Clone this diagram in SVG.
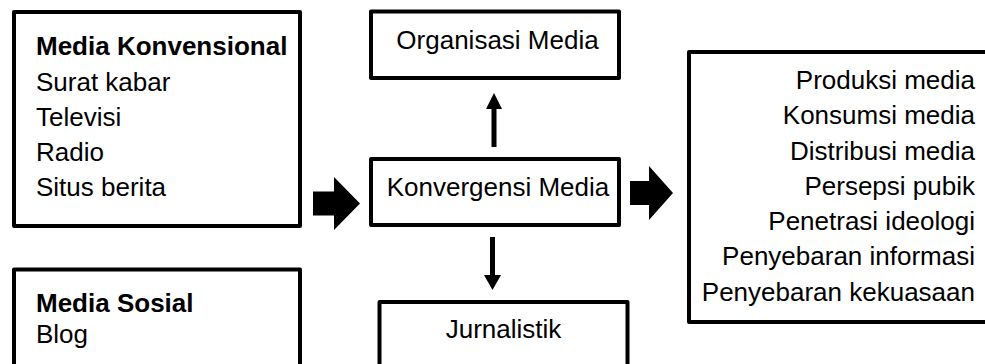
<svg xmlns="http://www.w3.org/2000/svg" width="985" height="364" viewBox="0 0 985 364">
<style>
.box{fill:#fff;stroke:#000;stroke-width:4;stroke-linejoin:round}
text{font-family:"Liberation Sans",Arial,sans-serif;font-size:26px;fill:#000}
.b{font-weight:bold}
.r{text-anchor:end}
.m{text-anchor:middle}
.arr{fill:#000;stroke:none}
.shaft{stroke:#000;stroke-width:5}
</style>
<rect width="985" height="364" fill="#fff"/>
<g id="media-konvensional">
<rect class="box" x="14" y="12" width="286" height="214"/>
<text class="b" x="36" y="55">Media Konvensional</text>
<text x="36" y="91">Surat kabar</text>
<text x="36" y="126">Televisi</text>
<text x="36" y="161">Radio</text>
<text x="36" y="196">Situs berita</text>
</g>
<g id="media-sosial">
<rect class="box" x="14" y="269.5" width="286" height="110"/>
<text class="b" x="36" y="311.5">Media Sosial</text>
<text x="36" y="343">Blog</text>
</g>
<g id="organisasi-media">
<rect class="box" x="371" y="11.5" width="248" height="66.5"/>
<text class="m" x="497.5" y="49">Organisasi Media</text>
</g>
<g id="konvergensi-media">
<rect class="box" x="371" y="159" width="248" height="66"/>
<text class="m" x="498" y="195.5">Konvergensi Media</text>
</g>
<g id="jurnalistik">
<rect class="box" x="379.5" y="302" width="248" height="80"/>
<text class="m" x="503.5" y="337.5">Jurnalistik</text>
</g>
<g id="dampak">
<rect class="box" x="689" y="52" width="320" height="270"/>
<text class="r" x="975" y="89">Produksi media</text>
<text class="r" x="975" y="124">Konsumsi media</text>
<text class="r" x="975" y="159.5">Distribusi media</text>
<text class="r" x="975" y="194.5">Persepsi pubik</text>
<text class="r" x="975" y="230">Penetrasi ideologi</text>
<text class="r" x="975" y="265">Penyebaran informasi</text>
<text class="r" x="975" y="300.5">Penyebaran kekuasaan</text>
</g>
<g id="connectors">
<polygon class="arr" points="313,191.5 334,191.5 334,177 360,203.5 334,230 334,215.5 313,215.5"/>
<polygon class="arr" points="630,181 649,181 649,166 673,193 649,220 649,205 630,205"/>
<line class="shaft" x1="494" y1="147" x2="494" y2="107"/>
<polygon class="arr" points="486,109 502,109 494,93"/>
<line class="shaft" x1="492.5" y1="237" x2="492.5" y2="277"/>
<polygon class="arr" points="484,275 501,275 492.5,290"/>
</g>
</svg>
